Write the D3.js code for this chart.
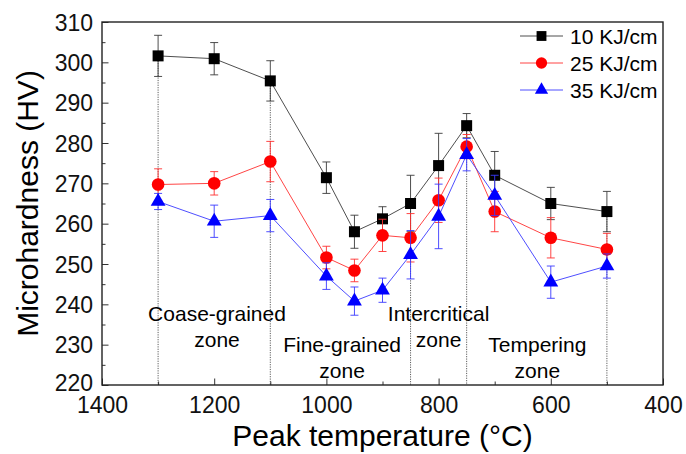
<!DOCTYPE html>
<html>
<head>
<meta charset="utf-8">
<script src="https://cdn.jsdelivr.net/npm/d3@7"></script>
<style>
  body { margin: 0; background: #fff; }
  svg { font-family: Arial, "Liberation Sans", sans-serif; }
</style>
</head>
<body>
<div id="chart"></div>
<script>
// Data
var temps = [1300, 1200, 1100, 1000, 950, 900, 850, 800, 750, 700, 600, 500];
var hv10 = [301.6, 300.9, 295.4, 271.4, 258, 261.2, 265, 274.4, 284.3, 272, 265, 263];
var err10 = [5.1, 4, 5, 3.9, 4.1, 3, 7, 8, 3, 5.9, 4, 5];
var hv25 = [269.7, 270, 275.4, 251.6, 248.4, 257.1, 256.5, 265.8, 279.1, 263, 256.5, 253.6];
var err25 = [3.9, 2.9, 5, 2.8, 2.8, 4, 6, 5.5, 3, 5, 5, 4];
var hv35 = [265.5, 260.6, 262, 247, 240.8, 243.5, 252.3, 261.8, 277.1, 267, 245.5, 249.5];
var err35 = [2, 4, 4, 3.3, 3.5, 3, 6, 8, 4, 5, 4, 3];

var seriesNames = ["10 KJ/cm", "25 KJ/cm", "35 KJ/cm"];
var xTicks = [1400, 1200, 1000, 800, 600, 400];
var yTicks = [220, 230, 240, 250, 260, 270, 280, 290, 300, 310];
var zoneLines = [1300, 1100, 850, 750, 500];
var zoneLabels = [
    { t: 1195, v: 235.9, lines: ["Coase-grained", "zone"] },
    { t: 972, v: 228.3, lines: ["Fine-grained", "zone"] },
    { t: 800, v: 235.9, lines: ["Intercritical", "zone"] },
    { t: 624, v: 228.3, lines: ["Tempering", "zone"] }
];

var width = 686, height = 454;
var margin = { top: 22, right: 23, bottom: 69, left: 102 };
var w = width - margin.left - margin.right;
var h = height - margin.top - margin.bottom;

var svg = d3.select("#chart").append("svg")
    .attr("width", width)
    .attr("height", height);

var g = svg.append("g")
    .attr("transform", "translate(" + margin.left + "," + margin.top + ")");

var x = d3.scaleLinear().domain([1400, 400]).range([0, w]);
var y = d3.scaleLinear().domain([220, 310]).range([h, 0]);

// dotted zone separators, from the 10 KJ/cm point down to the axis
zoneLines.forEach(function(t) {
    var i = temps.indexOf(t);
    g.append("line")
        .attr("x1", x(t)).attr("x2", x(t))
        .attr("y1", y(hv10[i])).attr("y2", h)
        .attr("stroke", "#333")
        .attr("stroke-width", 0.8)
        .attr("stroke-dasharray", "1.2,1.2");
});

// zone labels
zoneLabels.forEach(function(z) {
    var txt = g.append("text")
        .attr("x", x(z.t))
        .attr("y", y(z.v))
        .attr("text-anchor", "middle")
        .attr("font-size", 21)
        .attr("fill", "#000");
    z.lines.forEach(function(s, k) {
        txt.append("tspan")
            .attr("x", x(z.t))
            .attr("dy", k == 0 ? 0 : 26)
            .text(s);
    });
});

// axes (ticks point inward)
var xAxis = d3.axisBottom(x).tickValues(d3.range(1400, 399, -100))
    .tickSize(-6.5).tickFormat(d => xTicks.indexOf(d) >= 0 ? d : "");
var yAxis = d3.axisLeft(y).tickValues(d3.range(220, 311, 5))
    .tickSize(-6.5).tickFormat(d => yTicks.indexOf(d) >= 0 ? d : "");

var gx = g.append("g").attr("transform", "translate(0," + h + ")").call(xAxis);
var gy = g.append("g").call(yAxis);

[gx, gy].forEach(function(a) {
    a.select(".domain").remove();
    a.selectAll(".tick line").attr("stroke", "#333").attr("stroke-width", 1);
    a.selectAll(".tick text")
        .attr("font-size", 23)
        .attr("font-family", "Arial, 'Liberation Sans', sans-serif")
        .attr("fill", "#111");
});
// minor ticks shorter
gx.selectAll(".tick").filter(d => xTicks.indexOf(d) < 0).select("line").attr("y2", -3.5);
gy.selectAll(".tick").filter(d => yTicks.indexOf(d) < 0).select("line").attr("x2", 3.5);
gx.selectAll(".tick text").attr("y", 28).attr("dy", 0);
gy.selectAll(".tick text").attr("x", -9).attr("dy", "0.35em");
gy.selectAll(".tick").filter(d => d == 220).select("text").attr("dy", "0.25em");

// frame
g.append("rect")
    .attr("width", w).attr("height", h)
    .attr("fill", "none")
    .attr("stroke", "#222")
    .attr("stroke-width", 1.4);

// series
var series = [
    { name: seriesNames[0], vals: hv10, errs: err10, color: "#000", line: "#3a3a3a", bar: "#3a3a3a", shape: d3.symbolSquare, size: 121 },
    { name: seriesNames[1], vals: hv25, errs: err25, color: "#ff0000", line: "#ff3030", bar: "#ff3030", shape: d3.symbolCircle, size: 125 },
    { name: seriesNames[2], vals: hv35, errs: err35, color: "#0000ff", line: "#3a3aff", bar: "#3a3aff", shape: d3.symbolTriangle, size: 95 }
];

var line = d3.line()
    .x(d => x(d.t))
    .y(d => y(d.v));

series.forEach(function(s) {
    var pts = temps.map((t, i) => ({ t: t, v: s.vals[i], e: s.errs[i] }));
    var sg = g.append("g");

    // error bars
    pts.forEach(function(p) {
        var cx = x(p.t);
        sg.append("line")
            .attr("x1", cx).attr("x2", cx)
            .attr("y1", y(p.v + p.e)).attr("y2", y(p.v - p.e))
            .attr("stroke", s.bar).attr("stroke-width", 0.9);
        [p.v + p.e, p.v - p.e].forEach(function(v) {
            sg.append("line")
                .attr("x1", cx - 4).attr("x2", cx + 4)
                .attr("y1", y(v)).attr("y2", y(v))
                .attr("stroke", s.bar).attr("stroke-width", 0.9);
        });
    });

    sg.append("path")
        .attr("d", line(pts))
        .attr("fill", "none")
        .attr("stroke", s.line)
        .attr("stroke-width", 0.9);

    sg.selectAll("path.mark")
        .data(pts)
        .join("path")
        .attr("class", "mark")
        .attr("transform", d => "translate(" + x(d.t) + "," + y(d.v) + ")")
        .attr("d", d3.symbol().type(s.shape).size(s.size))
        .attr("fill", s.color);
});

// legend
var leg = g.append("g").attr("transform", "translate(" + (w - 143) + ",14)");
series.forEach(function(s, i) {
    var ly = i * 27;
    leg.append("line")
        .attr("x1", 0).attr("x2", 43)
        .attr("y1", ly).attr("y2", ly)
        .attr("stroke", s.line).attr("stroke-width", 0.9);
    leg.append("path")
        .attr("transform", "translate(21.5," + ly + ")")
        .attr("d", d3.symbol().type(s.shape).size(s.size * 0.8))
        .attr("fill", s.color);
    leg.append("text")
        .attr("x", 50).attr("y", ly)
        .attr("dy", "0.36em")
        .attr("font-size", 21)
        .attr("fill", "#000")
        .text(s.name);
});

// axis titles
svg.append("text")
    .attr("x", margin.left + w / 2)
    .attr("y", 446)
    .attr("text-anchor", "middle")
    .attr("font-size", 30)
    .attr("fill", "#000")
    .text("Peak temperature (\u00B0C)");

svg.append("text")
    .attr("transform", "translate(38," + (margin.top + h / 2) + ") rotate(-90)")
    .attr("text-anchor", "middle")
    .attr("font-size", 30)
    .attr("fill", "#000")
    .text("Microhardness (HV)");
</script>
</body>
</html>
